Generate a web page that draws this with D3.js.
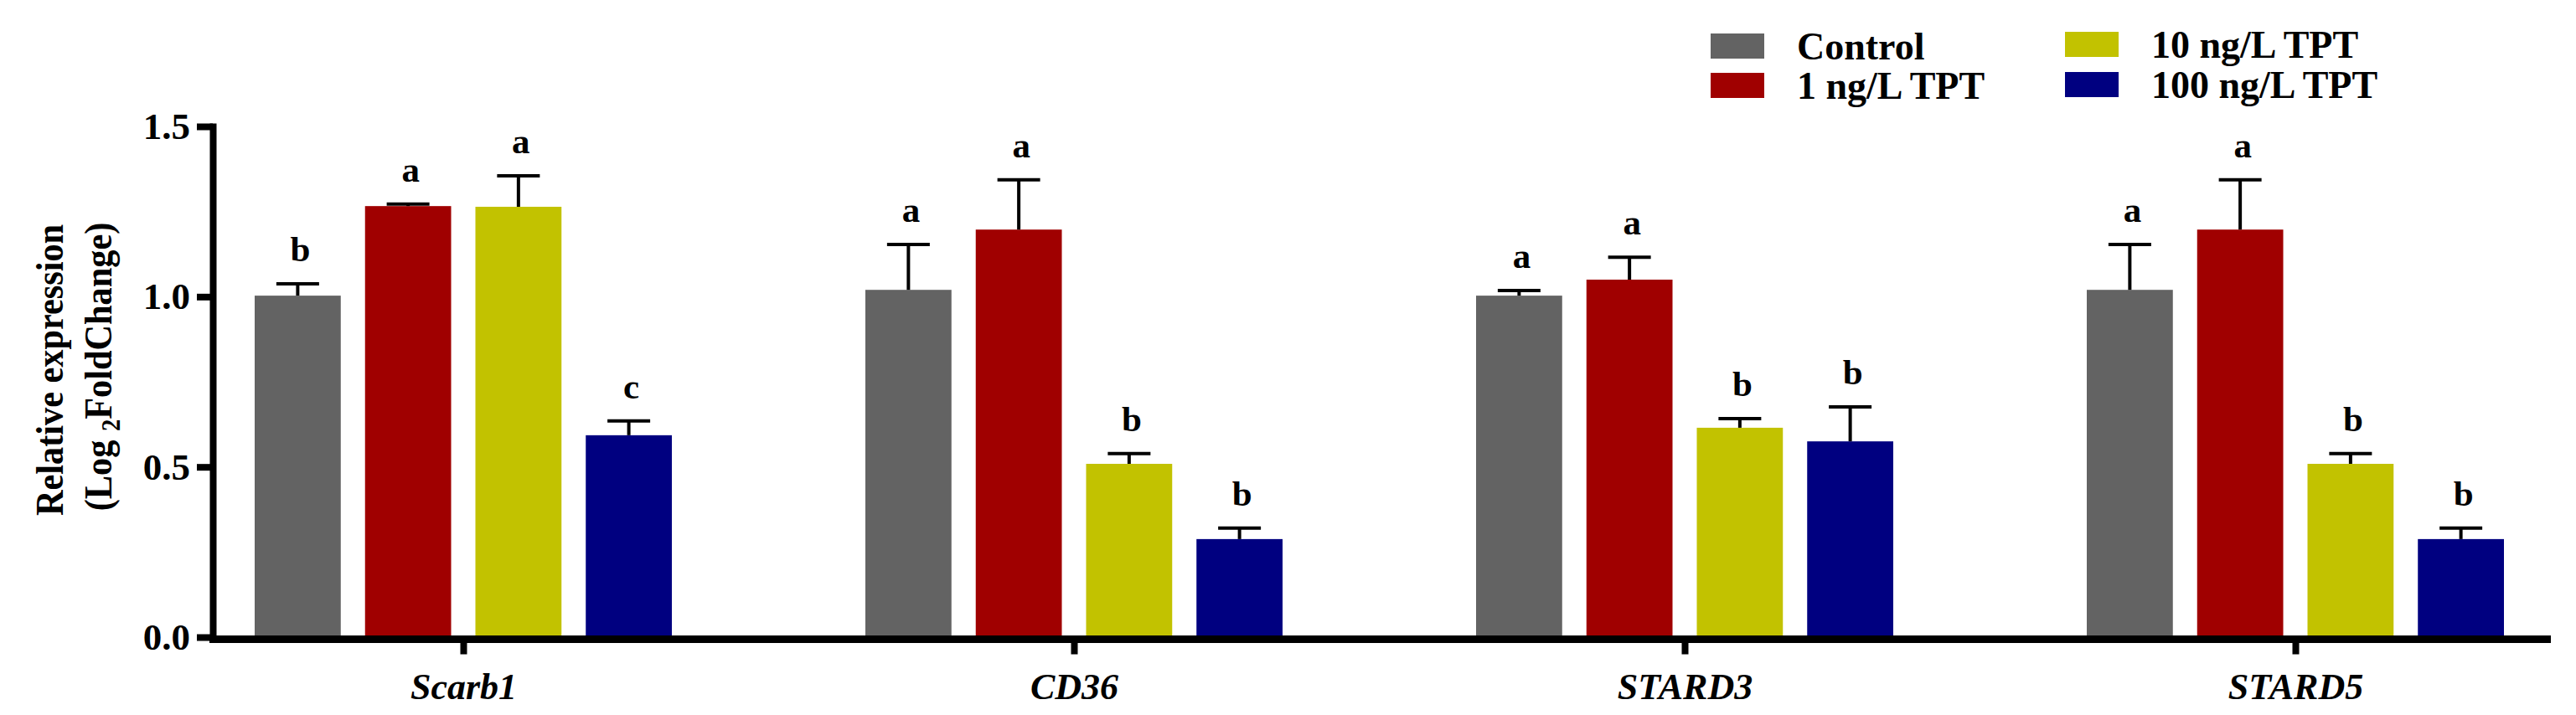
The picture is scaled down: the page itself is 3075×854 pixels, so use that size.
<!DOCTYPE html>
<html>
<head>
<meta charset="utf-8">
<script src="https://cdn.jsdelivr.net/npm/d3@7"></script>
<style>
  html, body { margin: 0; padding: 0; background: #fff; }
  svg { display: block; }
  text { font-family: "Liberation Serif", "Times New Roman", serif; }
</style>
</head>
<body>
<svg id="chart" width="3075" height="854"></svg>
<script>
// ---- data ----
const categories = ["Scarb1", "CD36", "STARD3", "STARD5"];
const seriesNames = ["Control", "1 ng/L TPT", "10 ng/L TPT", "100 ng/L TPT"];
const seriesColors = ["#636363", "#a00000", "#c2c200", "#000080"];

const controlValues = [1.003, 1.020, 1.003, 1.020];
const tpt1Values    = [1.266, 1.197, 1.050, 1.197];
const tpt10Values   = [1.264, 0.509, 0.615, 0.509];
const tpt100Values  = [0.593, 0.288, 0.575, 0.288];

const controlErr = [0.035, 0.133, 0.015, 0.133];
const tpt1Err    = [0.006, 0.146, 0.066, 0.146];
const tpt10Err   = [0.091, 0.030, 0.027, 0.030];
const tpt100Err  = [0.042, 0.032, 0.101, 0.032];

const controlLetters = ["b", "a", "a", "a"];
const tpt1Letters    = ["a", "a", "a", "a"];
const tpt10Letters   = ["a", "b", "b", "b"];
const tpt100Letters  = ["c", "b", "b", "b"];

const yTicks = [0, 0.5, 1.0, 1.5];

// ---- build table ----
const valueSets = [controlValues, tpt1Values, tpt10Values, tpt100Values];
const errSets = [controlErr, tpt1Err, tpt10Err, tpt100Err];
const letterSets = [controlLetters, tpt1Letters, tpt10Letters, tpt100Letters];
const rows = [];
categories.forEach((c, ci) => {
  seriesNames.forEach((s, si) => {
    rows.push({ cat: c, series: s, value: valueSets[si][ci], err: errSets[si][ci], letter: letterSets[si][ci], color: seriesColors[si] });
  });
});

// ---- layout ----
const svg = d3.select("#chart");
const axisX = 254;
const axisRight = 3045;
const y = d3.scaleLinear().domain([0, 1.5]).range([761, 151]);
const x0 = d3.scalePoint().domain(categories).range([553, 2740]);
const x1 = d3.scaleBand().domain(seriesNames).range([-249, 249]).paddingInner(0.22);

// bars
const g = svg.append("g");
g.selectAll("rect.bar").data(rows).enter().append("rect")
  .attr("class", "bar")
  .attr("x", d => x0(d.cat) + x1(d.series))
  .attr("width", x1.bandwidth())
  .attr("y", d => y(d.value))
  .attr("height", d => y(0) - y(d.value))
  .attr("fill", d => d.color);

// error bars (upper only)
const capW = 51;
const cx = d => x0(d.cat) + x1(d.series) + x1.bandwidth() / 2;
g.selectAll("line.err").data(rows).enter().append("line")
  .attr("x1", cx).attr("x2", cx)
  .attr("y1", d => y(d.value))
  .attr("y2", d => y(d.value + d.err))
  .attr("stroke", "#000").attr("stroke-width", 4);
g.selectAll("line.cap").data(rows).enter().append("line")
  .attr("x1", d => cx(d) - capW / 2)
  .attr("x2", d => cx(d) + capW / 2)
  .attr("y1", d => y(d.value + d.err))
  .attr("y2", d => y(d.value + d.err))
  .attr("stroke", "#000").attr("stroke-width", 4);

// significance letters
g.selectAll("text.letter").data(rows).enter().append("text")
  .attr("x", d => cx(d) + 3)
  .attr("y", d => y(d.value + d.err) - 27)
  .attr("text-anchor", "middle")
  .attr("font-size", 43)
  .attr("font-weight", "bold")
  .text(d => d.letter);

// y axis
const yAxis = svg.append("g")
  .attr("transform", `translate(${axisX},0)`)
  .call(d3.axisLeft(y).tickValues(yTicks).tickFormat(d3.format(".1f")).tickSize(19).tickSizeOuter(0).tickPadding(8));
yAxis.select(".domain").attr("stroke", "#000").attr("stroke-width", 8).attr("stroke-linecap", "square");
yAxis.selectAll(".tick line").attr("stroke", "#000").attr("stroke-width", 8);
yAxis.selectAll(".tick text")
  .attr("font-family", "Liberation Serif, Times New Roman, serif")
  .attr("font-size", 45).attr("font-weight", "bold").attr("fill", "#000");

// x axis
const xAxis = svg.append("g")
  .attr("transform", `translate(0,763.5)`)
  .call(d3.axisBottom(x0).tickSize(18).tickPadding(22));
xAxis.select(".domain").remove();
xAxis.selectAll(".tick line").attr("stroke", "#000").attr("stroke-width", 8);
xAxis.selectAll(".tick text")
  .attr("font-family", "Liberation Serif, Times New Roman, serif")
  .attr("font-size", 44).attr("font-weight", "bold").attr("font-style", "italic").attr("fill", "#000");
svg.append("line")
  .attr("x1", axisX - 4).attr("x2", axisRight)
  .attr("y1", 763.5).attr("y2", 763.5)
  .attr("stroke", "#000").attr("stroke-width", 9);

// y axis title
const yTitle = svg.append("text")
  .attr("transform", "translate(75,442) rotate(-90) scale(0.92,1)")
  .attr("text-anchor", "middle")
  .attr("font-size", 46).attr("font-weight", "bold")
  .text("Relative expression");
const t2 = svg.append("text")
  .attr("transform", "translate(133,438) rotate(-90) scale(0.92,1)")
  .attr("text-anchor", "middle")
  .attr("font-size", 46).attr("font-weight", "bold");
t2.append("tspan").text("(Log ");
t2.append("tspan").attr("font-size", 31).attr("dy", 10).text("2");
t2.append("tspan").attr("dy", -10).text("FoldChange)");

// legend
const legendPos = [[2042, 40], [2042, 87], [2465, 38], [2465, 86]];
const legend = svg.append("g");
seriesNames.forEach((s, i) => {
  const [lx, ly] = legendPos[i];
  legend.append("rect").attr("x", lx).attr("y", ly).attr("width", 64).attr("height", 30).attr("fill", seriesColors[i]);
  legend.append("text").attr("x", lx + 103).attr("y", ly + 31)
    .attr("font-size", 46).attr("font-weight", "bold").text(s);
});
</script>
</body>
</html>
